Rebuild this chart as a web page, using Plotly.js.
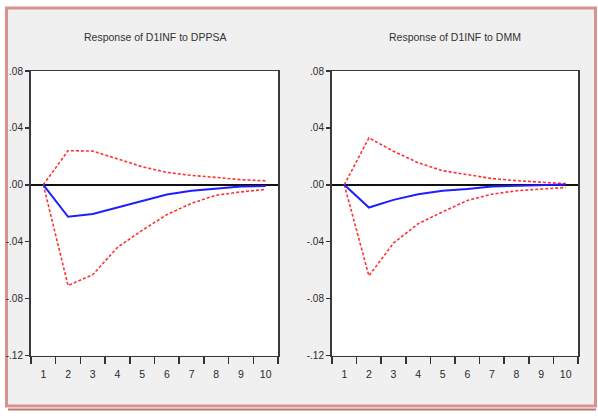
<!DOCTYPE html>
<html>
<head>
<meta charset="utf-8">
<script src="https://cdn.plot.ly/plotly-3.0.1.min.js"></script>
<style>html,body{margin:0;padding:0;background:#fff;}#chart{width:598px;height:416px;}</style>
</head>
<body>
<div id="chart"></div>
<script>
// ---- data ----
var periods = ["1","2","3","4","5","6","7","8","9","10"];

var dppsaResp  = [0, -0.0225, -0.0205, -0.016, -0.0113, -0.0068, -0.0042, -0.0026, -0.0012, -0.0008];
var dppsaUpper = [0, 0.024, 0.0237, 0.018, 0.0127, 0.0087, 0.0066, 0.0052, 0.0036, 0.0028];
var dppsaLower = [0, -0.0708, -0.0632, -0.044, -0.032, -0.021, -0.013, -0.0073, -0.005, -0.0032];

var dmmResp  = [0, -0.016, -0.0106, -0.0067, -0.0042, -0.003, -0.0012, -0.0008, -0.0005, 0.0002];
var dmmUpper = [0, 0.033, 0.0236, 0.0155, 0.0099, 0.0071, 0.0044, 0.0029, 0.002, 0.0008];
var dmmLower = [0, -0.064, -0.041, -0.0274, -0.019, -0.011, -0.0066, -0.0042, -0.003, -0.0019];

var yTickVals = [0.08, 0.04, 0, -0.04, -0.08, -0.12];
var yTickText = [".08", ".04", ".00", "-.04", "-.08", "-.12"];

var titles = ["Response of D1INF to DPPSA", "Response of D1INF to DMM"];

// ---- traces ----
var blue = {color: "rgb(30,30,255)", width: 2};
var red  = {color: "rgb(255,50,50)", width: 1.6, dash: "3px,2px"};

function mk(y, line, xa, ya) {
  return {x: periods, y: y, type: "scatter", mode: "lines", line: line,
          xaxis: xa, yaxis: ya, hoverinfo: "skip", showlegend: false};
}

var data = [
  mk(dppsaUpper, red, "x", "y"),
  mk(dppsaLower, red, "x", "y"),
  mk(dppsaResp, blue, "x", "y"),
  mk(dmmUpper, red, "x2", "y2"),
  mk(dmmLower, red, "x2", "y2"),
  mk(dmmResp, blue, "x2", "y2")
];

var W = 598, H = 416;
function px(v){ return v / W; }
function py(v){ return 1 - v / H; }

var tickFont = {family: "Liberation Sans, Arial, sans-serif", size: 10, color: "#2a2a2a"};

function xAxis(domain, anchor) {
  return {
    domain: domain, anchor: anchor, type: "category",
    categoryorder: "array", categoryarray: periods,
    tickson: "boundaries", ticks: "outside", ticklen: 7, tickwidth: 1.5, tickcolor: "#333",
    ticklabelstandoff: 8,
    showline: true, linecolor: "#3a3a3a", linewidth: 1.5, mirror: true,
    showgrid: false, zeroline: false, range: [-0.5, 9.5],
    tickfont: {family: "Liberation Sans, Arial, sans-serif", size: 10.5, color: "#2a2a2a"},
    fixedrange: true
  };
}
function yAxis(domain, anchor) {
  return {
    domain: domain, anchor: anchor, range: [-0.12, 0.08],
    tickmode: "array", tickvals: yTickVals, ticktext: yTickText,
    ticks: "outside", ticklen: 4, tickwidth: 1.5, tickcolor: "#333",
    showline: true, linecolor: "#3a3a3a", linewidth: 2, mirror: true,
    showgrid: false, zeroline: true, zerolinecolor: "#111", zerolinewidth: 2,
    tickfont: tickFont, fixedrange: true
  };
}

var yDom = [py(355.5), py(71)];

var layout = {
  width: W, height: H,
  margin: {l: 0, r: 0, t: 0, b: 0, pad: 0},
  paper_bgcolor: "#ffffff",
  plot_bgcolor: "#ffffff",
  showlegend: false,
  xaxis: xAxis([px(31), px(278)], "y"),
  yaxis: yAxis(yDom, "x"),
  xaxis2: xAxis([px(332), px(578)], "y2"),
  yaxis2: yAxis(yDom, "x2"),
  shapes: [
    {type: "rect", xref: "paper", yref: "paper", layer: "below",
     x0: px(6.5), x1: px(595.5), y0: py(406), y1: py(8),
     fillcolor: "#f0f0f0", line: {color: "#d79292", width: 3}},
    {type: "line", xref: "paper", yref: "paper", layer: "below",
     x0: px(8), x1: px(596), y0: py(409.5), y1: py(409.5),
     line: {color: "#c07474", width: 2}},
    {type: "rect", xref: "x domain", yref: "y domain", layer: "below",
     x0: 0, x1: 1, y0: 0, y1: 1, fillcolor: "#ffffff", line: {width: 0}},
    {type: "rect", xref: "x2 domain", yref: "y2 domain", layer: "below",
     x0: 0, x1: 1, y0: 0, y1: 1, fillcolor: "#ffffff", line: {width: 0}}
  ],
  annotations: [
    {text: titles[0], xref: "paper", yref: "paper", x: px(154.5), y: py(37),
     showarrow: false, xanchor: "center", yanchor: "middle",
     font: {family: "Liberation Sans, Arial, sans-serif", size: 10.5, color: "#333"}},
    {text: titles[1], xref: "paper", yref: "paper", x: px(455), y: py(37),
     showarrow: false, xanchor: "center", yanchor: "middle",
     font: {family: "Liberation Sans, Arial, sans-serif", size: 10.5, color: "#333"}}
  ]
};

Plotly.newPlot("chart", data, layout, {staticPlot: true, displayModeBar: false});
</script>
</body>
</html>
